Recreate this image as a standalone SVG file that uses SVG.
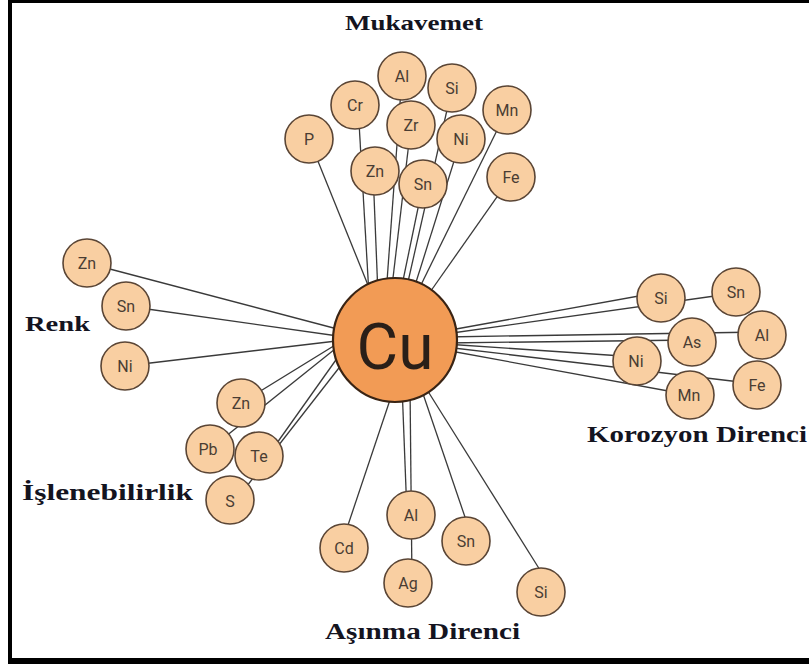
<svg xmlns="http://www.w3.org/2000/svg" width="809" height="664" viewBox="0 0 809 664">
<style>
.bg{fill:#ffffff}
.frame{fill:#000000}
.ln{stroke:#3a3a3a;stroke-width:1.3;fill:none}
.el circle{fill:#f9cfa2;stroke:#5a4535;stroke-width:1.6}
.el text{font-family:Roboto,"Open Sans",sans-serif;font-size:16px;fill:#4a3d33;text-anchor:middle}
.cu circle{fill:#f29b55;stroke:#3a2414;stroke-width:2.2}
.cu text{font-family:Roboto,"Open Sans",sans-serif;font-size:64px;fill:#2a1f18;text-anchor:middle}
.lbl{font-family:"Liberation Serif","Times New Roman",serif;font-weight:bold;fill:#14141f}
</style>
<rect class="bg" x="0" y="0" width="809" height="664"/>
<rect class="frame" x="8" y="0" width="801" height="3"/>
<rect class="frame" x="8" y="0" width="4" height="664"/>
<rect class="frame" x="8" y="658" width="801" height="6"/>

<g id="connectors">
  <line class="ln" x1="309" y1="139" x2="372" y2="295"/>
  <line class="ln" x1="358" y1="105" x2="369" y2="295"/>
  <line class="ln" x1="373" y1="171" x2="378" y2="295"/>
  <line class="ln" x1="402" y1="76" x2="386" y2="295"/>
  <line class="ln" x1="411" y1="125" x2="391" y2="295"/>
  <line class="ln" x1="423" y1="184" x2="400" y2="295"/>
  <line class="ln" x1="452" y1="88" x2="405" y2="295"/>
  <line class="ln" x1="461" y1="139" x2="412" y2="295"/>
  <line class="ln" x1="507" y1="110" x2="416" y2="295"/>
  <line class="ln" x1="511" y1="177" x2="428" y2="295"/>

  <line class="ln" x1="87" y1="263" x2="345" y2="331"/>
  <line class="ln" x1="126" y1="306" x2="345" y2="337"/>
  <line class="ln" x1="125" y1="366" x2="345" y2="340"/>

  <line class="ln" x1="241" y1="403" x2="345" y2="339"/>
  <line class="ln" x1="210" y1="449" x2="345" y2="341"/>
  <line class="ln" x1="272" y1="450" x2="338" y2="357"/>
  <line class="ln" x1="236" y1="500" x2="342" y2="364"/>

  <line class="ln" x1="661" y1="292" x2="445" y2="331"/>
  <line class="ln" x1="736" y1="293" x2="445" y2="334"/>
  <line class="ln" x1="762" y1="332" x2="445" y2="337"/>
  <line class="ln" x1="692" y1="340" x2="445" y2="343"/>
  <line class="ln" x1="637" y1="357" x2="445" y2="344"/>
  <line class="ln" x1="757" y1="384" x2="445" y2="347"/>
  <line class="ln" x1="690" y1="395" x2="445" y2="350"/>

  <line class="ln" x1="343" y1="540" x2="395" y2="385"/>
  <line class="ln" x1="407" y1="515" x2="402" y2="385"/>
  <line class="ln" x1="412" y1="583" x2="410" y2="385"/>
  <line class="ln" x1="466" y1="520" x2="420" y2="385"/>
  <line class="ln" x1="540" y1="570" x2="424" y2="385"/>
</g>

<g id="muk-al" class="el"><circle cx="402" cy="76" r="24"/><text x="402" y="82">Al</text></g>
<g id="muk-cr" class="el"><circle cx="355" cy="105" r="24"/><text x="355" y="111">Cr</text></g>
<g id="muk-si" class="el"><circle cx="452" cy="88" r="24"/><text x="452" y="94">Si</text></g>
<g id="muk-mn" class="el"><circle cx="507" cy="110" r="24"/><text x="507" y="116">Mn</text></g>
<g id="muk-p" class="el"><circle cx="309" cy="139" r="24"/><text x="309" y="145">P</text></g>
<g id="muk-zr" class="el"><circle cx="411" cy="125" r="24"/><text x="411" y="131">Zr</text></g>
<g id="muk-ni" class="el"><circle cx="461" cy="139" r="24"/><text x="461" y="145">Ni</text></g>
<g id="muk-zn" class="el"><circle cx="375" cy="171" r="24"/><text x="375" y="177">Zn</text></g>
<g id="muk-sn" class="el"><circle cx="423" cy="184" r="24"/><text x="423" y="190">Sn</text></g>
<g id="muk-fe" class="el"><circle cx="511" cy="177" r="24"/><text x="511" y="183">Fe</text></g>

<g id="renk-zn" class="el"><circle cx="87" cy="263" r="24"/><text x="87" y="269">Zn</text></g>
<g id="renk-sn" class="el"><circle cx="126" cy="306" r="24"/><text x="126" y="312">Sn</text></g>
<g id="renk-ni" class="el"><circle cx="125" cy="366" r="24"/><text x="125" y="372">Ni</text></g>

<g id="isl-zn" class="el"><circle cx="241" cy="403" r="24"/><text x="241" y="409">Zn</text></g>
<g id="isl-pb" class="el"><circle cx="210" cy="449" r="24"/><text x="208" y="455">Pb</text></g>
<g id="isl-te" class="el"><circle cx="259" cy="456" r="24"/><text x="259" y="462">Te</text></g>
<g id="isl-s" class="el"><circle cx="230" cy="500" r="24"/><text x="230" y="507">S</text></g>

<g id="kor-si" class="el"><circle cx="661" cy="298" r="24"/><text x="661" y="304">Si</text></g>
<g id="kor-sn" class="el"><circle cx="736" cy="292" r="24"/><text x="736" y="298">Sn</text></g>
<g id="kor-al" class="el"><circle cx="762" cy="335" r="24"/><text x="762" y="341">Al</text></g>
<g id="kor-as" class="el"><circle cx="692" cy="342" r="24"/><text x="692" y="348">As</text></g>
<g id="kor-ni" class="el"><circle cx="637" cy="361" r="24"/><text x="636" y="367">Ni</text></g>
<g id="kor-fe" class="el"><circle cx="757" cy="385" r="24"/><text x="757" y="391">Fe</text></g>
<g id="kor-mn" class="el"><circle cx="690" cy="395" r="24"/><text x="689" y="401">Mn</text></g>

<g id="asi-cd" class="el"><circle cx="344" cy="548" r="24"/><text x="344" y="554">Cd</text></g>
<g id="asi-al" class="el"><circle cx="411" cy="515" r="24"/><text x="411" y="521">Al</text></g>
<g id="asi-ag" class="el"><circle cx="408" cy="583" r="24"/><text x="408" y="589">Ag</text></g>
<g id="asi-sn" class="el"><circle cx="466" cy="541" r="24"/><text x="466" y="547">Sn</text></g>
<g id="asi-si" class="el"><circle cx="541" cy="592" r="24"/><text x="541" y="598">Si</text></g>

<g id="cu" class="cu"><circle cx="395" cy="340" r="62"/><text x="395" y="369">Cu</text></g>

<g id="labels">
  <text class="lbl" x="345" y="30" font-size="22" textLength="138" lengthAdjust="spacingAndGlyphs">Mukavemet</text>
  <text class="lbl" x="25" y="331" font-size="22" textLength="65" lengthAdjust="spacingAndGlyphs">Renk</text>
  <text class="lbl" x="22" y="500" font-size="23" textLength="171" lengthAdjust="spacingAndGlyphs">İşlenebilirlik</text>
  <text class="lbl" x="587" y="442" font-size="23" textLength="220" lengthAdjust="spacingAndGlyphs">Korozyon Direnci</text>
  <text class="lbl" x="325" y="639" font-size="23" textLength="195" lengthAdjust="spacingAndGlyphs">Aşınma Direnci</text>
</g>
</svg>
